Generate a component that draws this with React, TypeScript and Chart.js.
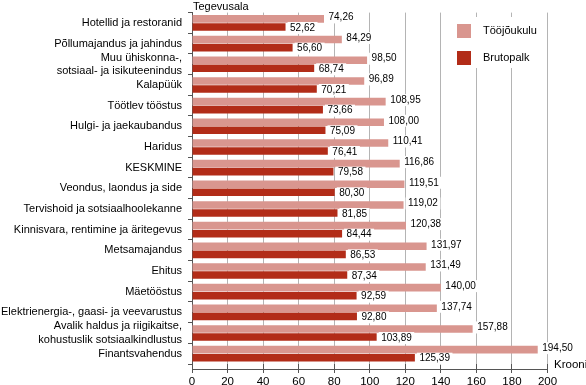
import React, { useEffect, useRef } from "react";
import { Chart, registerables } from "chart.js";

Chart.register(...registerables);

const categories: (string | string[])[] = [
  "Hotellid ja restoranid",
  "Põllumajandus ja jahindus",
  ["Muu ühiskonna-,", "sotsiaal- ja isikuteenindus"],
  "Kalapüük",
  "Töötlev tööstus",
  "Hulgi- ja jaekaubandus",
  "Haridus",
  "KESKMINE",
  "Veondus, laondus ja side",
  "Tervishoid ja sotsiaalhoolekanne",
  "Kinnisvara, rentimine ja äritegevus",
  "Metsamajandus",
  "Ehitus",
  "Mäetööstus",
  "Elektrienergia-, gaasi- ja veevarustus",
  ["Avalik haldus ja riigikaitse,", "kohustuslik sotsiaalkindlustus"],
  "Finantsvahendus",
];

const toojoukulu = [74.26, 84.29, 98.5, 96.89, 108.95, 108.0, 110.41, 116.86, 119.51, 119.02, 120.38, 131.97, 131.49, 140.0, 137.74, 157.88, 194.5];
const brutopalk = [52.62, 56.6, 68.74, 70.21, 73.66, 75.09, 76.41, 79.58, 80.3, 81.85, 84.44, 86.53, 87.34, 92.59, 92.8, 103.89, 125.39];

const xTicks = [0, 20, 40, 60, 80, 100, 120, 140, 160, 180, 200];
const seriesNames = ["Tööjõukulu", "Brutopalk"];
const seriesColors = ["#d9968f", "#b22c18"];

const FONT = "'Liberation Sans', Arial, sans-serif";

const labelPlugin = {
  id: "valueLabels",
  afterDatasetsDraw(chart: any) {
    const ctx = chart.ctx;
    ctx.save();
    ctx.font = `10px ${FONT}`;
    ctx.textBaseline = "middle";
    chart.data.datasets.forEach((ds: any, di: number) => {
      const meta = chart.getDatasetMeta(di);
      meta.data.forEach((el: any, i: number) => {
        const v = ds.data[i] as number;
        const txt = v.toFixed(2).replace(".", ",");
        const w = ctx.measureText(txt).width;
        const x = el.x + 2;
        const y = el.y + (di === 0 ? -1.5 : 1);
        ctx.fillStyle = "#ffffff";
        ctx.fillRect(x, y - 6, w + 5, 12);
        ctx.fillStyle = "#000000";
        ctx.textAlign = "left";
        ctx.fillText(txt, x + 2.5, y);
      });
    });
    ctx.restore();
  },
};

const decorPlugin = {
  id: "decor",
  afterDraw(chart: any) {
    const ctx = chart.ctx;
    const a = chart.chartArea;
    ctx.save();
    // x axis line below the plot
    ctx.strokeStyle = "#555555";
    ctx.lineWidth = 1;
    ctx.beginPath();
    ctx.moveTo(a.left, a.bottom + 5.5);
    ctx.lineTo(a.right, a.bottom + 5.5);
    ctx.stroke();
    // legend
    ctx.fillStyle = "#ffffff";
    ctx.fillRect(446, 17, 98, 51);
    ctx.font = `11px ${FONT}`;
    ctx.textBaseline = "middle";
    ctx.textAlign = "left";
    seriesNames.forEach((n, i) => {
      ctx.fillStyle = seriesColors[i];
      ctx.fillRect(457, 24 + i * 27, 14, 14);
      ctx.fillStyle = "#000000";
      ctx.fillText(n, 483, 31 + i * 27);
    });
    // titles
    ctx.font = `11px ${FONT}`;
    ctx.textBaseline = "alphabetic";
    ctx.fillText("Tegevusala", 193, 9.5);
    ctx.font = `11.5px ${FONT}`;
    ctx.fillText("Krooni", 554, 368);
    ctx.restore();
  },
};

export default function App() {
  const ref = useRef<HTMLCanvasElement | null>(null);
  useEffect(() => {
    document.body.style.margin = "0";
    const chart = new Chart(ref.current as HTMLCanvasElement, {
      type: "bar",
      data: {
        labels: categories as any,
        datasets: [
          { label: seriesNames[0], data: toojoukulu, backgroundColor: seriesColors[0], categoryPercentage: 0.78, barPercentage: 0.94 },
          { label: seriesNames[1], data: brutopalk, backgroundColor: seriesColors[1], categoryPercentage: 0.78, barPercentage: 0.94 },
        ],
      },
      options: {
        indexAxis: "y",
        animation: false,
        responsive: false,
        layout: { padding: { top: 12, right: 38.5, left: 0, bottom: 0 } },
        plugins: { legend: { display: false }, tooltip: { enabled: false } },
        scales: {
          x: {
            min: 0,
            max: 200,
            afterBuildTicks: (s: any) => {
              s.ticks = xTicks.map((v) => ({ value: v }));
            },
            afterFit: (s: any) => {
              s.height = 21;
            },
            grid: { color: "#b4b4b4", drawTicks: true, tickLength: 9, tickColor: "#555555" },
            border: { display: false },
            ticks: { color: "#000", font: { family: FONT, size: 11.5 }, padding: 2, maxRotation: 0 },
          },
          y: {
            afterFit: (s: any) => {
              s.width = 192;
            },
            grid: { drawOnChartArea: false, tickLength: 4, tickColor: "#555555", offset: true },
            border: { display: true, color: "#555555" },
            ticks: { color: "#000", font: { family: FONT, size: 11, lineHeight: 1.2 }, padding: 6, autoSkip: false },
          },
        },
      },
      plugins: [labelPlugin, decorPlugin],
    });
    return () => chart.destroy();
  }, []);
  return <canvas ref={ref} width={586} height={385} style={{ display: "block" }} />;
}
